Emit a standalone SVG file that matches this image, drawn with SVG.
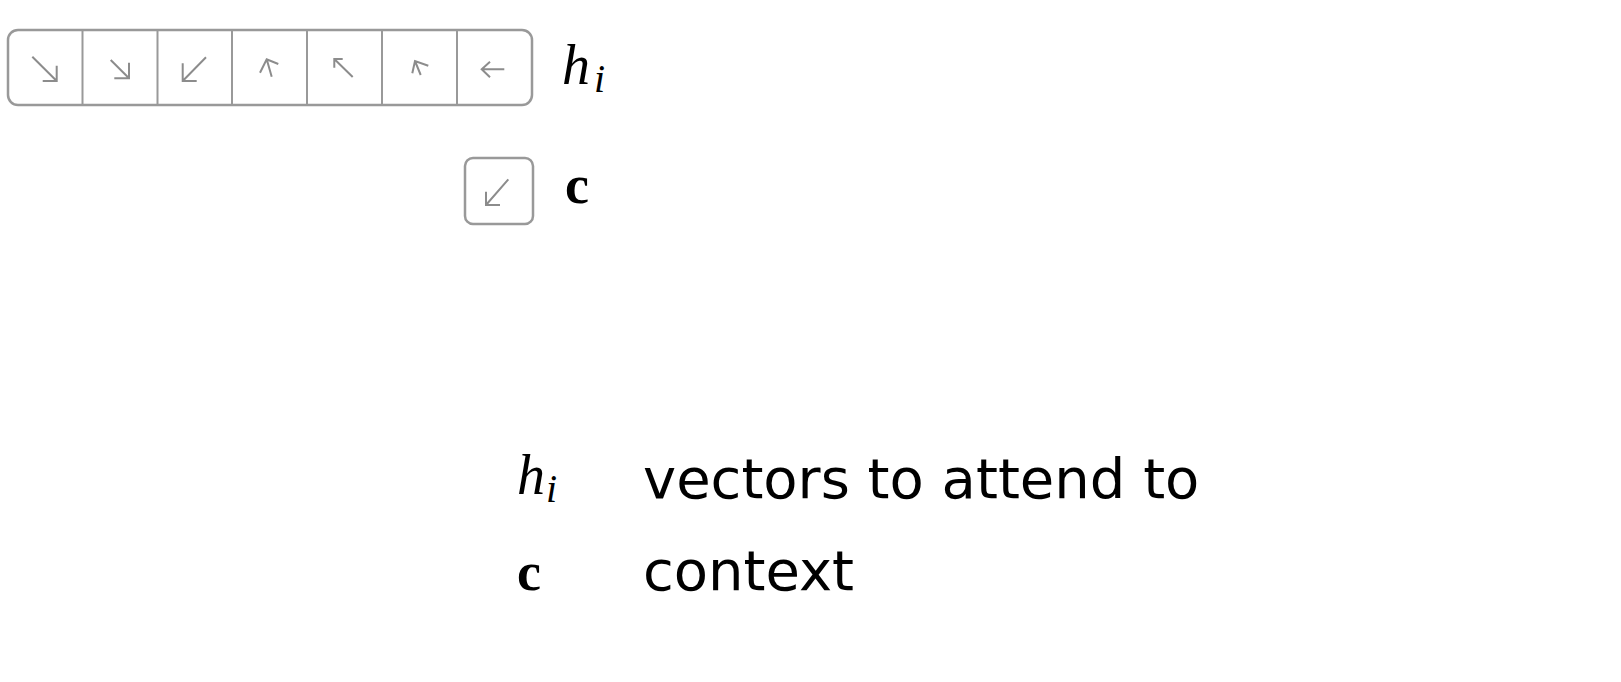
<svg xmlns="http://www.w3.org/2000/svg" width="1621" height="682" viewBox="0 0 1621 682">
<style>
.box{fill:#fff;stroke:#999;stroke-width:2.5}
.div{stroke:#999;stroke-width:2;fill:none}
.arr{stroke:#8c8c8c;stroke-width:2;fill:none;stroke-linecap:butt;stroke-linejoin:miter}
.mi{font-family:"Liberation Serif",serif;font-style:italic;fill:#000}
.mb{font-family:"Liberation Serif",serif;font-weight:bold;fill:#000}
.lbl{font-family:"DejaVu Sans",sans-serif;font-size:56px;fill:#000}
</style>
<rect width="1621" height="682" fill="#fff"/>
<g id="h-vectors">
<rect class="box" x="8" y="30" width="524" height="75" rx="10"/>
<path class="div" d="M82.5,30V105M157.5,30V105M232,30V105M307,30V105M382,30V105M457,30V105"/>
<path class="arr" d="M32.3,56.7L56.7,81M42.7,81H56.7V65.7"/>
<path class="arr" d="M110.7,60L129,78.3M114.3,78.3H129V62.7"/>
<path class="arr" d="M206,57.3L182.7,81M182.7,63.3V81H196.7"/>
<path class="arr" d="M271.7,76.7L266.7,59.3M260,72.7L266.7,59.3L278.3,64"/>
<path class="arr" d="M352.7,77L334.3,59M334.3,67.7V59H342.7"/>
<path class="arr" d="M420.7,75L415,61M412.3,73.3L415,61L428.3,65.7"/>
<path class="arr" d="M504.3,69.3H481.7M490,61.7L481.7,69.3L490,77.3"/>
</g>
<g id="h-label">
<text class="mi" x="562" y="83.5" font-size="56">h</text>
<text class="mi" x="594" y="92" font-size="40">i</text>
</g>
<g id="c-vector">
<rect class="box" x="465" y="158" width="68" height="66" rx="8"/>
<path class="arr" d="M508.3,179.3L486,205M486,191.7V205H500"/>
</g>
<g id="c-label">
<text class="mb" x="565" y="203" font-size="54">c</text>
</g>
<g id="legend">
<text class="mi" x="517" y="493.5" font-size="56">h</text>
<text class="mi" x="546" y="502" font-size="40">i</text>
<text class="mb" x="517" y="589.5" font-size="54">c</text>
<text class="lbl" x="643" y="497.5">vectors to attend to</text>
<text class="lbl" x="643" y="590">context</text>
</g>
<g id="connectors"></g>
</svg>
